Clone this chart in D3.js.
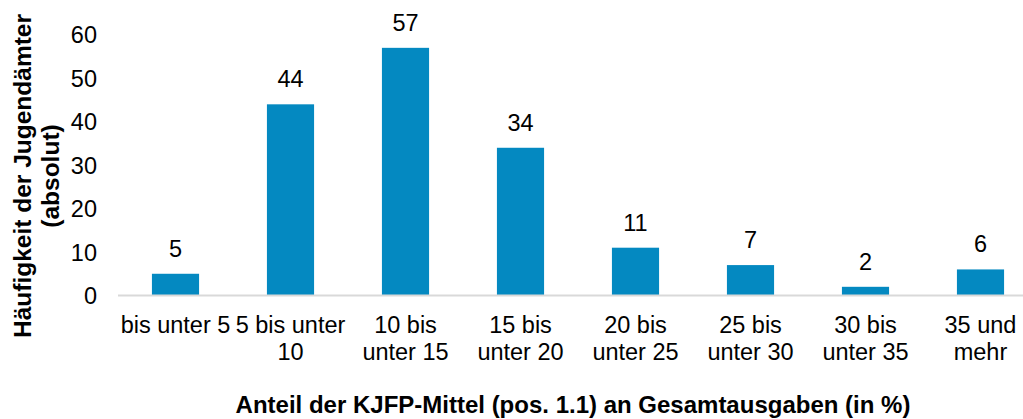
<!DOCTYPE html>
<html>
<head>
<meta charset="utf-8">
<script src="https://cdn.jsdelivr.net/npm/d3@7"></script>
<style>
  body { margin: 0; background: #fff; }
  text { font-family: "Liberation Sans", Arial, sans-serif; fill: #000; }
</style>
</head>
<body>
<div id="chart"></div>
<script>
"use strict";

// Kategorien (Anteil in %), zweizeilig wie im Original
const categoryLines = [
    ["bis unter 5"],
    ["5 bis unter", "10"],
    ["10 bis", "unter 15"],
    ["15 bis", "unter 20"],
    ["20 bis", "unter 25"],
    ["25 bis", "unter 30"],
    ["30 bis", "unter 35"],
    ["35 und", "mehr"]
];
const categories = categoryLines.map(l => l.join(" "));
const counts = [5, 44, 57, 34, 11, 7, 2, 6];
const yTicks = [0, 10, 20, 30, 40, 50, 60];

const xTitle = "Anteil der KJFP-Mittel (pos. 1.1) an Gesamtausgaben (in %)";
const yTitle = ["Häufigkeit der Jugendämter", "(absolut)"];

const svgWidth = 1023;
const svgHeight = 419;
const margin = { top: 34.8, left: 118, bottom: 295.5 };
const barColor = "#0489c1";
const fontSize = "23.5px";

const data = categories.map((c, i) => ({ cat: c, lines: categoryLines[i], value: counts[i] }));

const svg = d3.select("#chart")
    .append("svg")
    .attr("width", svgWidth)
    .attr("height", svgHeight);

const xScale = d3.scaleBand()
    .domain(categories)
    .range([margin.left, margin.left + 920])
    .paddingInner(0.59)
    .paddingOuter(0.295);

const yScale = d3.scaleLinear()
    .domain([0, 60])
    .range([margin.bottom, margin.top]);

// Y-Achse (nur Beschriftungen)
const yAxis = svg.append("g")
    .attr("transform", "translate(97,0)")
    .call(d3.axisLeft(yScale).tickValues(yTicks).tickSize(0).tickPadding(0));
yAxis.select(".domain").remove();
yAxis.selectAll("text")
    .style("font-size", fontSize)
    .style("font-family", "'Liberation Sans', Arial, sans-serif")
    .attr("fill", "#000")
    .attr("dy", "0.34em");

// Balken
svg.selectAll(".bar")
    .data(data)
    .enter().append("rect")
    .attr("class", "bar")
    .attr("x", d => xScale(d.cat))
    .attr("width", xScale.bandwidth())
    .attr("y", d => yScale(d.value))
    .attr("height", d => yScale(0) - yScale(d.value))
    .attr("fill", barColor);

// Grundlinie
svg.append("line")
    .attr("x1", margin.left)
    .attr("x2", svgWidth)
    .attr("y1", yScale(0))
    .attr("y2", yScale(0))
    .attr("stroke", "#d9d9d9")
    .attr("stroke-width", 2);

// Datenbeschriftungen
svg.selectAll(".label")
    .data(data)
    .enter().append("text")
    .attr("class", "label")
    .attr("x", d => xScale(d.cat) + xScale.bandwidth() / 2)
    .attr("y", d => yScale(d.value) - 17)
    .attr("text-anchor", "middle")
    .style("font-size", fontSize)
    .text(d => d.value);

// X-Achse Beschriftungen
const xLabels = svg.selectAll(".xlab")
    .data(data)
    .enter().append("text")
    .attr("class", "xlab")
    .attr("text-anchor", "middle")
    .style("font-size", fontSize);
xLabels.selectAll("tspan")
    .data(d => d.lines.map(l => ({ line: l, x: xScale(d.cat) + xScale.bandwidth() / 2 })))
    .enter().append("tspan")
    .attr("x", d => d.x)
    .attr("y", (d, i) => 333 + i * 27)
    .text(d => d.line);

// Achsentitel
svg.append("text")
    .attr("x", 573)
    .attr("y", 413)
    .attr("text-anchor", "middle")
    .style("font-size", "24px")
    .style("font-weight", "bold")
    .text(xTitle);

svg.append("text")
    .attr("transform", "translate(0,176) rotate(-90)")
    .attr("text-anchor", "middle")
    .style("font-size", "24.5px")
    .style("font-weight", "bold")
    .selectAll("tspan")
    .data(yTitle)
    .enter().append("tspan")
    .attr("x", 0)
    .attr("y", (d, i) => 31 + i * 28)
    .text(d => d);
</script>
</body>
</html>
